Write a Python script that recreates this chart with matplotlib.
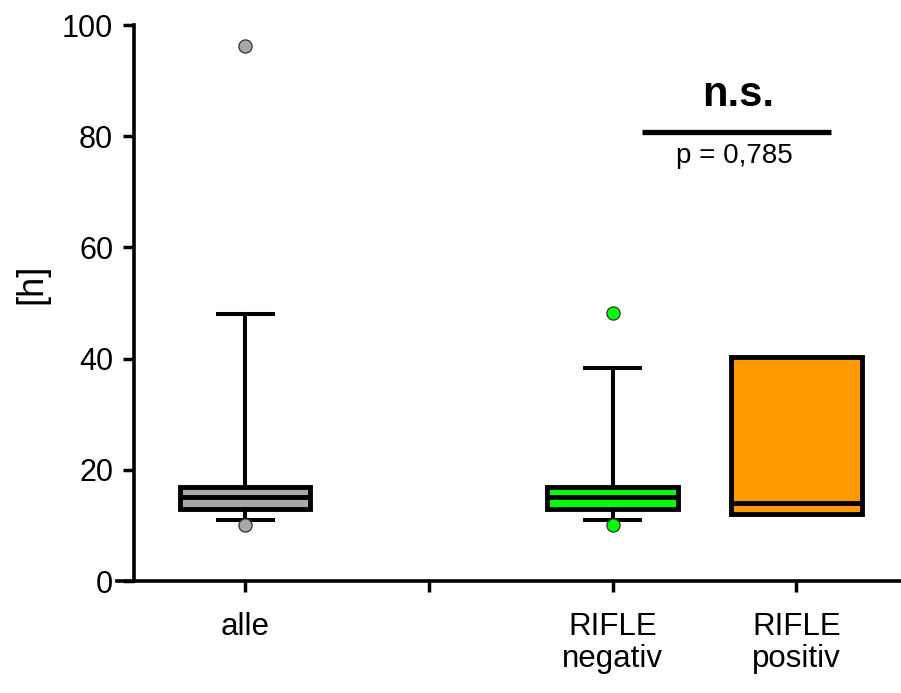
import matplotlib.pyplot as plt

plt.rcParams["font.family"] = ["Liberation Sans", "DejaVu Sans"]

# Group labels and box summaries (hours)
groups = ["alle", "", "RIFLE\nnegativ", "RIFLE\npositiv"]
positions = [0, 2, 3]
box_colors = ["#a8a8a8", "#00ff00", "#ff9900"]
q1 = [13.0, 12.9, 12.1]
med = [15.2, 15.1, 14.0]
q3 = [16.9, 16.9, 40.3]
whis_lo = [10.9, 11.0, 12.1]
whis_hi = [48.0, 38.3, 40.3]
outliers = [[96.2, 10.0], [48.2, 10.1], []]

p_value_text = "p = 0,785"
sig_level = 80.8
sig_span = [2.16, 3.19]

fig = plt.figure(figsize=(9.01, 6.93), dpi=100)
ax = fig.add_axes([0.1487, 0.1616, 0.8513, 0.8023])

for i, pos in enumerate(positions):
    stats = [{
        "q1": q1[i], "med": med[i], "q3": q3[i],
        "whislo": whis_lo[i], "whishi": whis_hi[i], "fliers": outliers[i],
    }]
    ax.bxp(
        stats, positions=[pos], widths=0.71, patch_artist=True,
        showfliers=True, showcaps=(pos != 3),
        boxprops={"facecolor": box_colors[i], "edgecolor": "black", "linewidth": 3.5},
        medianprops={"color": "black", "linewidth": 3.5},
        whiskerprops={"color": "black", "linewidth": 2.9},
        capprops={"color": "black", "linewidth": 2.9},
        capwidths=0.3,
        flierprops={"marker": "o", "markerfacecolor": box_colors[i],
                    "markeredgecolor": "#333333", "markersize": 9.5, "markeredgewidth": 0.9},
    )

# significance bar between the two RIFLE groups
mid = sum(sig_span) / 2
ax.plot(sig_span, [sig_level, sig_level], color="black", linewidth=3.8, solid_capstyle="butt")
ax.text(mid + 0.01, sig_level + 4.6, "n.s.", ha="center", va="baseline",
        fontsize=30, fontweight="bold")
ax.text(mid - 0.01, sig_level - 5.6, p_value_text, ha="center", va="baseline", fontsize=20)

ax.set_xlim(-0.605, 3.57)
ax.set_ylim(0, 100)
ax.set_xticks(range(len(groups)))
ax.set_xticklabels(groups, fontsize=22.5, linespacing=1.12)
ax.set_yticks([0, 20, 40, 60, 80, 100])
ax.tick_params(axis="y", labelsize=22, width=2.5, length=8, pad=7)
ax.tick_params(axis="x", width=2.5, length=8, pad=14)
ax.set_ylabel("[h]", fontsize=26)
ax.yaxis.set_label_coords(-0.11, 0.535)

for side in ("top", "right"):
    ax.spines[side].set_visible(False)
for side in ("left", "bottom"):
    ax.spines[side].set_linewidth(2.6)
ax.spines["bottom"].set_bounds(-0.7, 3.57)
ax.spines["bottom"].set_clip_on(False)

fig.savefig("out.png", dpi=100)
